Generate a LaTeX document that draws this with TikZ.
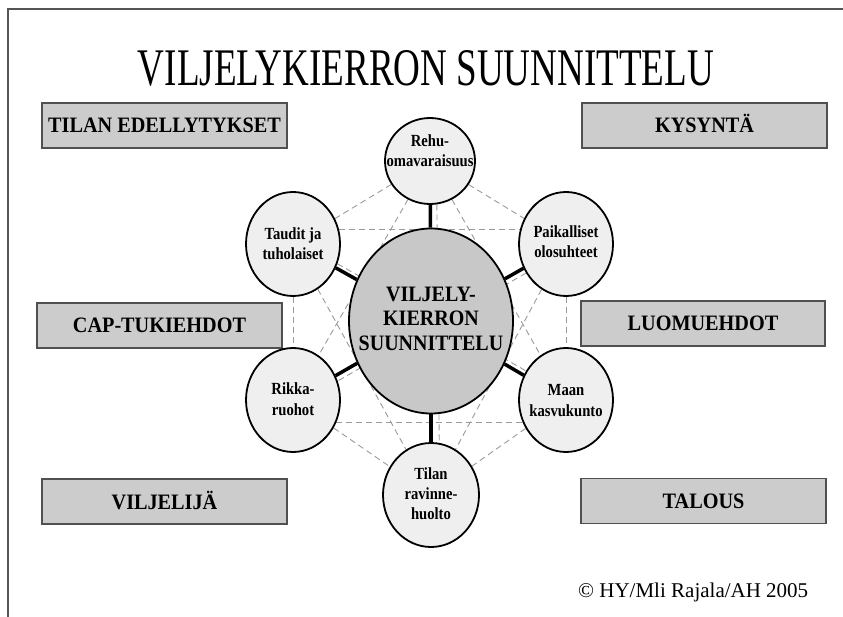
\documentclass[tikz,border=0pt]{standalone}
\usepackage{fontspec}
\setmainfont{Liberation Serif}
\usepackage{graphicx}
\usetikzlibrary{shapes.geometric,backgrounds}
\definecolor{boxfill}{HTML}{CCCCCC}
\definecolor{boxline}{HTML}{505050}
\definecolor{satfill}{HTML}{EFEFEF}
\definecolor{ctrfill}{HTML}{C8C8C8}
\definecolor{dashcol}{HTML}{9A9A9A}
\definecolor{framecol}{HTML}{555555}
\newcommand{\bxtext}[1]{\smash{\scalebox{0.92}[1]{#1}}}
\newcommand{\stext}[1]{\scalebox{0.86}[1]{\fontsize{17}{20}\selectfont\bfseries\begin{tabular}{@{}c@{}}#1\end{tabular}}}
\newcommand{\ctext}[1]{\scalebox{0.91}[1]{\fontsize{22}{24.5}\selectfont\bfseries\begin{tabular}{@{}c@{}}#1\end{tabular}}}
\tikzset{
  infobox/.style={draw=boxline, line width=1.3pt, fill=boxfill, minimum width=245pt, minimum height=45pt, inner sep=0pt, text height=15pt, text depth=0pt, font=\fontsize{22}{26}\selectfont\bfseries},
  satnode/.style={ellipse, draw=black, line width=1.8pt, fill=satfill, inner sep=0pt, minimum width=94pt, minimum height=104pt},
  ctrnode/.style={ellipse, draw=black, line width=1.8pt, fill=ctrfill, inner sep=0pt, minimum width=164pt, minimum height=185pt},
  slabel/.style={inner sep=0pt},
  link/.style={draw=black, line width=3.5pt},
  netline/.style={draw=dashcol, line width=0.9pt, dash pattern=on 6pt off 4pt}
}
\begin{document}
\begin{tikzpicture}[x=1pt,y=-1pt]
\useasboundingbox (0,0) rectangle (843,617);
% frame
\draw[framecol, line width=1.4pt] (8,617) -- (8,9) -- (843,9);
% title
\node (title) [anchor=base, inner sep=0pt] at (426,86) {\resizebox{576pt}{35pt}{VILJELYKIERRON SUUNNITTELU}};
% boxes
\node (tila) [infobox] at (164.5,125.5) {\bxtext{TILAN EDELLYTYKSET}};
\node (kysy) [infobox] at (704.5,125.5) {\bxtext{KYSYNTÄ}};
\node (cap)  [infobox] at (159.5,325.5) {\bxtext{CAP-TUKIEHDOT}};
\node (luom) [infobox, minimum width=244pt] at (703,323.5) {\bxtext{LUOMUEHDOT}};
\node (vilj) [infobox] at (164.5,501.5) {\bxtext{VILJELIJÄ}};
\node (talo) [infobox] at (703.5,501) {\bxtext{TALOUS}};
% satellites
\node (reh) [satnode, minimum width=90pt, minimum height=86pt, label={[slabel, yshift=8pt]center:\stext{Rehu-\\omavaraisuus}}] at (430,161) {};
\node (tau) [satnode, label={[slabel, yshift=-2pt]center:\stext{Taudit ja\\tuholaiset}}] at (293,244) {};
\node (pai) [satnode, label={[slabel]center:\stext{Paikalliset\\olosuhteet}}] at (566,244) {};
\node (rik) [satnode, label={[slabel, yshift=-1pt]center:\stext{Rikka-\\ruohot}}] at (293,400) {};
\node (maa) [satnode, label={[slabel, yshift=-2pt]center:\stext{Maan\\kasvukunto}}] at (566,400) {};
\node (til) [satnode, minimum width=96pt, minimum height=104pt, label={[slabel]center:\stext{Tilan\\ravinne-\\huolto}}] at (431,495) {};
% centre
\node (ctr) [ctrnode, label={[slabel]center:\ctext{VILJELY-\\KIERRON\\SUUNNITTELU}}] at (431,321) {};
% dashed network behind
\begin{scope}[on background layer]
  \draw[netline] (reh) -- (tau);
  \draw[netline] (reh) -- (pai);
  \draw[netline] (reh) -- (rik);
  \draw[netline] (reh) -- (maa);
  \draw[netline] (reh.-81) -- (til.81);
  \draw[netline] (tau.17) -- (pai.163);
  \draw[netline] (tau) -- (rik);
  \draw[netline] (tau) -- (til);
  \draw[netline] (tau.-24) -- (maa.144);
  \draw[netline] (pai) -- (maa);
  \draw[netline] (pai) -- (til);
  \draw[netline] (pai.216) -- (rik.23);
  \draw[netline] (rik.-27) -- (maa.207);
  \draw[netline] (rik) -- (til);
  \draw[netline] (maa) -- (til);
\end{scope}
% thick connectors
\draw[link] (ctr) -- (reh);
\draw[link] (ctr) -- (tau);
\draw[link] (ctr) -- (pai);
\draw[link] (ctr) -- (rik);
\draw[link] (ctr) -- (maa);
\draw[link] (ctr) -- (til);
% copyright
\node (copy) [anchor=base west, inner sep=0pt, font=\fontsize{21}{24}\selectfont] at (578,597) {© HY/Mli Rajala/AH 2005};
\end{tikzpicture}
\end{document}
